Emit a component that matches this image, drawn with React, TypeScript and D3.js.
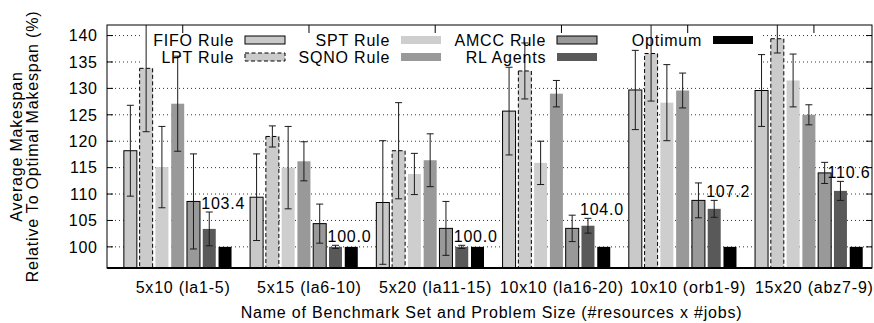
import React from 'react'
import * as d3 from 'd3'

// benchmark sets (x categories)
const groups = ['5x10 (la1-5)', '5x15 (la6-10)', '5x20 (la11-15)', '10x10 (la16-20)', '10x10 (orb1-9)', '15x20 (abz7-9)']

// average makespan relative to optimum (%), and error half-widths
const fifo = [118.2, 109.4, 108.4, 125.7, 129.7, 129.6]
const fifoErr = [8.6, 8.2, 11.7, 8.3, 7.5, 6.8]
const lpt = [133.8, 120.9, 118.2, 133.3, 136.6, 139.4]
const lptErr = [12.0, 2.0, 9.1, 5.3, 9.0, 2.7]
const spt = [115.1, 115.0, 113.8, 115.9, 127.3, 131.5]
const sptErr = [7.7, 7.8, 3.9, 4.1, 7.2, 5.0]
const sqno = [127.1, 116.2, 116.4, 129.0, 129.6, 125.0]
const sqnoErr = [9.0, 3.7, 5.0, 2.5, 3.3, 1.9]
const amcc = [108.6, 104.4, 103.5, 103.5, 108.8, 114.0]
const amccErr = [9.0, 3.7, 5.1, 2.5, 3.3, 2.0]
const rl = [103.4, 100.0, 100.0, 104.0, 107.2, 110.6]
const rlErr = [3.2, 0.3, 0.3, 1.4, 1.6, 1.8]
const optimum = [100, 100, 100, 100, 100, 100]

const yTicks = [100, 105, 110, 115, 120, 125, 130, 135, 140]

const W = 874
const H = 323
const left = 107
const right = 872
const top = 25
const bottom = 268
const font = 'Liberation Sans, Arial, Helvetica, sans-serif'
const fs = 16
const ls = 0.8

type Series = {
  name: string
  values: number[]
  err: number[] | null
  fill: string
  stroke: string | null
  dash?: string
}

const series: Series[] = [
  { name: 'FIFO Rule', values: fifo, err: fifoErr, fill: '#c9c9c9', stroke: '#000' },
  { name: 'LPT Rule', values: lpt, err: lptErr, fill: '#cbcbcb', stroke: '#000', dash: '4,2.5' },
  { name: 'SPT Rule', values: spt, err: sptErr, fill: '#cecece', stroke: null },
  { name: 'SQNO Rule', values: sqno, err: sqnoErr, fill: '#999999', stroke: null },
  { name: 'AMCC Rule', values: amcc, err: amccErr, fill: '#999999', stroke: '#000' },
  { name: 'RL Agents', values: rl, err: rlErr, fill: '#595959', stroke: null },
  { name: 'Optimum', values: optimum, err: null, fill: '#000000', stroke: null },
]

export default function App() {
  const x = d3.scaleLinear().domain([-0.6, 5.46]).range([left, right])
  const y = d3.scaleLinear().domain([96, 142]).range([bottom, top])
  const barW = x(0.103) - x(0)
  const barX = (i: number, j: number) => x(i + (j - 3) / 8 - 0.04)

  const legendCols = [245, 401, 557, 713]

  return (
    <svg width={W} height={H} style={{ position: 'absolute', left: 0, top: 0, display: 'block' }}
      fontFamily={font} fontSize={fs} letterSpacing={ls}>
      <defs>
        <clipPath id="plot">
          <rect x={left} y={top} width={right - left} height={bottom - top} />
        </clipPath>
      </defs>
      <rect width={W} height={H} fill="#fff" />

      {/* grid */}
      {yTicks.map((t) => (
        <line key={'g' + t} x1={left} x2={right} y1={y(t)} y2={y(t)} stroke="#333" strokeWidth={1} strokeDasharray="1,3" />
      ))}
      {/* key box blanks the grid */}
      <rect x={140} y={27} width={622} height={41} fill="#fff" />

      {/* y ticks + labels */}
      {yTicks.map((t) => (
        <g key={'t' + t}>
          <line x1={left} x2={left + 6} y1={y(t)} y2={y(t)} stroke="#000" />
          <line x1={right - 6} x2={right} y1={y(t)} y2={y(t)} stroke="#000" />
          <text x={97.8} y={y(t)} dy="0.36em" textAnchor="end">{t}</text>
        </g>
      ))}

      {/* x ticks */}
      {groups.map((g, i) => (
        <g key={'x' + i}>
          <line x1={x(i)} x2={x(i)} y1={top} y2={top + 8} stroke="#000" />
          <line x1={x(i)} x2={x(i)} y1={bottom} y2={bottom - 8} stroke="#000" />
          <text x={x(i) + 0.4} y={293} textAnchor="middle">{g}</text>
        </g>
      ))}

      {/* bars */}
      <g clipPath="url(#plot)">
        {series.map((s, j) =>
          s.values.map((v, i) => (
            <rect
              key={s.name + i}
              x={barX(i, j) - barW / 2}
              y={y(v)}
              width={barW}
              height={bottom - y(v)}
              fill={s.fill}
              stroke={s.stroke ?? 'none'}
              strokeWidth={1}
              strokeDasharray={s.dash}
            />
          ))
        )}
        {/* error bars */}
        {series.map((s, j) =>
          s.err
            ? s.values.map((v, i) => {
                const cx = barX(i, j)
                const e = s.err![i]
                return (
                  <g key={'e' + s.name + i} stroke="#1a1a1a" strokeWidth={1}>
                    <line x1={cx} x2={cx} y1={y(v + e)} y2={y(v - e)} />
                    <line x1={cx - 3.5} x2={cx + 3.5} y1={y(v + e)} y2={y(v + e)} />
                    <line x1={cx - 3.5} x2={cx + 3.5} y1={y(v - e)} y2={y(v - e)} />
                  </g>
                )
              })
            : null
        )}
      </g>

      {/* RL value labels */}
      {rl.map((v, i) => (
        <text key={'l' + i} x={Math.min(barX(i, 5) + 14, W - 25)} y={y(v + rlErr[i]) - 3} textAnchor="middle">
          {v.toFixed(1)}
        </text>
      ))}

      {/* legend */}
      {series.map((s, k) => {
        const col = Math.floor(k / 2)
        const row = k % 2
        const sx = legendCols[col]
        const cy = 40 + row * 17
        return (
          <g key={'k' + k}>
            <text x={sx - 10.8} y={cy} dy="0.36em" textAnchor="end">{s.name}</text>
            <rect
              x={sx}
              y={cy - 4}
              width={40}
              height={8}
              fill={s.fill}
              stroke={s.stroke ?? 'none'}
              strokeDasharray={s.dash}
            />
          </g>
        )
      })}

      {/* frame */}
      <rect x={left} y={top} width={right - left} height={bottom - top} fill="none" stroke="#000" strokeWidth={1} />
      <line x1={left} x2={right} y1={bottom} y2={bottom} stroke="#000" strokeWidth={2} />

      {/* axis titles */}
      <text x={(left + right) / 2 + 2} y={318} textAnchor="middle">
        Name of Benchmark Set and Problem Size (#resources x #jobs)
      </text>
      <text transform={`translate(21.5,${(top + bottom) / 2}) rotate(-90)`} textAnchor="middle">
        Average Makespan
      </text>
      <text transform={`translate(37.5,${(top + bottom) / 2}) rotate(-90)`} textAnchor="middle">
        Relative To Optimal Makespan (%)
      </text>
    </svg>
  )
}
